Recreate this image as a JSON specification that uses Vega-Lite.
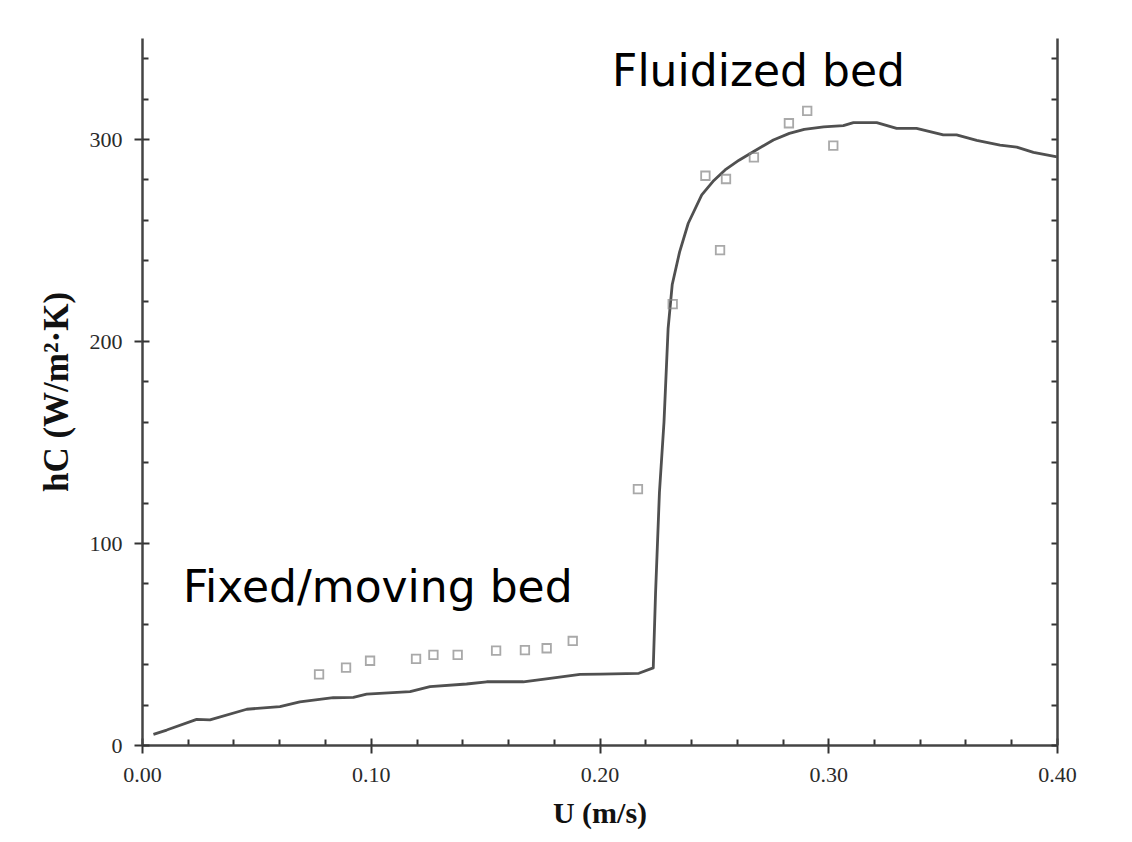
{
  "$schema": "https://vega.github.io/schema/vega-lite/v6.json",
  "width": 915,
  "height": 707,
  "autosize": "none",
  "padding": {"left": 142, "top": 38, "right": 75, "bottom": 97},
  "background": "#ffffff",
  "config": {"view": {"stroke": null}},
  "datasets": {
    "model": [
      {"u": 0.005, "h": 5.3}, {"u": 0.0108, "h": 7.4}, {"u": 0.0239, "h": 12.7}, {"u": 0.0297, "h": 12.4},
      {"u": 0.0458, "h": 17.7}, {"u": 0.0603, "h": 19.0}, {"u": 0.069, "h": 21.4}, {"u": 0.0836, "h": 23.4},
      {"u": 0.0924, "h": 23.6}, {"u": 0.0982, "h": 25.2}, {"u": 0.1172, "h": 26.4}, {"u": 0.1259, "h": 28.9},
      {"u": 0.1419, "h": 30.2}, {"u": 0.1507, "h": 31.3}, {"u": 0.1667, "h": 31.3}, {"u": 0.1784, "h": 33.0},
      {"u": 0.1915, "h": 35.0}, {"u": 0.2005, "h": 35.1}, {"u": 0.2172, "h": 35.5}, {"u": 0.2235, "h": 38.2},
      {"u": 0.2245, "h": 75.0}, {"u": 0.2262, "h": 125.0}, {"u": 0.2282, "h": 160.0}, {"u": 0.2300, "h": 206.3},
      {"u": 0.2318, "h": 228.0}, {"u": 0.2350, "h": 244.0}, {"u": 0.2388, "h": 258.3}, {"u": 0.2447, "h": 272.3},
      {"u": 0.2500, "h": 279.5}, {"u": 0.2549, "h": 284.7}, {"u": 0.2610, "h": 289.5}, {"u": 0.2672, "h": 293.7},
      {"u": 0.276, "h": 299.5}, {"u": 0.2830, "h": 302.8}, {"u": 0.2895, "h": 304.8}, {"u": 0.2980, "h": 306.0},
      {"u": 0.3066, "h": 306.6}, {"u": 0.311, "h": 308.1},
      {"u": 0.3212, "h": 308.1}, {"u": 0.3299, "h": 305.3}, {"u": 0.3386, "h": 305.3}, {"u": 0.3503, "h": 302.0},
      {"u": 0.3561, "h": 302.0}, {"u": 0.3649, "h": 299.3}, {"u": 0.3751, "h": 297.0}, {"u": 0.3824, "h": 296.0},
      {"u": 0.3897, "h": 293.4}, {"u": 0.4, "h": 291.2}
    ],
    "exp": [
      {"u": 0.0774, "h": 35.0}, {"u": 0.0892, "h": 38.3}, {"u": 0.0997, "h": 41.7}, {"u": 0.1198, "h": 42.6},
      {"u": 0.1274, "h": 44.6}, {"u": 0.138, "h": 44.6}, {"u": 0.1548, "h": 46.7}, {"u": 0.1674, "h": 47.0},
      {"u": 0.1769, "h": 47.9}, {"u": 0.1883, "h": 51.5}, {"u": 0.2168, "h": 126.7}, {"u": 0.232, "h": 218.3},
      {"u": 0.2527, "h": 245.0}, {"u": 0.2463, "h": 281.8}, {"u": 0.2553, "h": 280.2}, {"u": 0.2675, "h": 290.9},
      {"u": 0.2828, "h": 307.8}, {"u": 0.2908, "h": 313.9}, {"u": 0.3022, "h": 296.7}
    ],
    "labels": [
      {"u": 0.0179, "h": 70.8, "text": "Fixed/moving bed"},
      {"u": 0.2055, "h": 326.2, "text": "Fluidized bed"}
    ]
  },
  "resolve": {"axis": {"x": "independent", "y": "independent"}},
  "layer": [
    {
      "data": {"name": "model"},
      "mark": {"type": "line", "color": "#505050", "strokeWidth": 2.8, "interpolate": "linear", "strokeJoin": "round"},
      "encoding": {
        "x": {
          "field": "u", "type": "quantitative",
          "scale": {"domain": [0, 0.4], "nice": false, "zero": false},
          "axis": {
            "orient": "bottom",
            "values": [0, 0.02, 0.04, 0.06, 0.08, 0.1, 0.12, 0.14, 0.16, 0.18, 0.2, 0.22, 0.24, 0.26, 0.28, 0.3, 0.32, 0.34, 0.36, 0.38, 0.4],
            "labelExpr": "abs(datum.value*10 - round(datum.value*10)) < 0.000001 ? format(datum.value, '.2f') : ''",
            "tickSize": {"condition": {"test": "abs(datum.value*10 - round(datum.value*10)) < 0.000001", "value": 8}, "value": -6},
            "tickColor": "#333333", "tickWidth": 2,
            "domainColor": "#444444", "domainWidth": 2.5,
            "grid": false,
            "labelFont": "Liberation Serif", "labelFontSize": 22, "labelColor": "#2a2a2a", "labelPadding": 11,
            "labelFlush": false, "labelOverlap": false,
            "title": "U (m/s)", "titleFont": "Liberation Serif", "titleFontSize": 30, "titleFontWeight": "bold",
            "titleColor": "#111111", "titlePadding": 13
          }
        },
        "y": {
          "field": "h", "type": "quantitative",
          "scale": {"domain": [0, 350], "nice": false},
          "axis": {
            "orient": "left",
            "values": [0, 20, 40, 60, 80, 100, 120, 140, 160, 180, 200, 220, 240, 260, 280, 300, 320, 340],
            "labelExpr": "datum.value % 100 === 0 ? format(datum.value, 'd') : ''",
            "tickSize": {"condition": {"test": "datum.value % 100 === 0", "value": 8}, "value": -6},
            "tickColor": "#333333", "tickWidth": 2,
            "domainColor": "#444444", "domainWidth": 2.5,
            "grid": false,
            "labelFont": "Liberation Serif", "labelFontSize": 22, "labelColor": "#2a2a2a", "labelPadding": 12,
            "labelFlush": false, "labelOverlap": false,
            "title": "hC (W/m²·K)", "titleFont": "Liberation Serif", "titleFontSize": 35, "titleFontWeight": "bold",
            "titleColor": "#111111", "titlePadding": 15
          }
        }
      }
    },
    {
      "data": {"name": "exp"},
      "mark": {"type": "point", "shape": "square", "filled": false, "size": 72, "stroke": "#858585", "strokeWidth": 1.8},
      "encoding": {
        "x": {"field": "u", "type": "quantitative", "axis": null},
        "y": {
          "field": "h", "type": "quantitative",
          "axis": {
            "orient": "right",
            "values": [0, 20, 40, 60, 80, 100, 120, 140, 160, 180, 200, 220, 240, 260, 280, 300, 320, 340],
            "labels": false,
            "tickSize": -6, "tickColor": "#333333", "tickWidth": 2,
            "domainColor": "#444444", "domainWidth": 2.5,
            "grid": false, "title": null
          }
        }
      }
    },
    {
      "data": {"name": "labels"},
      "mark": {"type": "text", "align": "left", "baseline": "alphabetic", "font": "DejaVu Sans", "fontSize": 44, "color": "#000000"},
      "encoding": {
        "x": {
          "field": "u", "type": "quantitative",
          "axis": {
            "orient": "bottom", "values": [0, 0.1, 0.2, 0.3, 0.4], "labels": false, "domain": false,
            "tickSize": -7, "tickColor": "#333333", "tickWidth": 2, "grid": false, "title": null
          }
        },
        "y": {
          "field": "h", "type": "quantitative",
          "axis": {
            "orient": "left", "values": [0, 100, 200, 300], "labels": false, "domain": false,
            "tickSize": -7, "tickColor": "#333333", "tickWidth": 2, "grid": false, "title": null
          }
        },
        "text": {"field": "text", "type": "nominal"}
      }
    }
  ]
}
